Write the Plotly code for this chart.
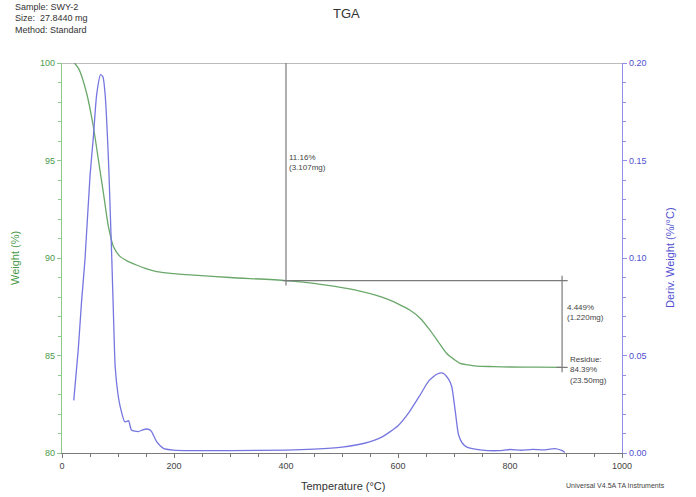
import plotly.graph_objects as go

# Weight (%) vs temperature (°C)
temp_w = [22, 30, 44, 56, 65, 74, 83, 92, 104, 118, 133, 150, 169, 200, 229, 300,
          400, 450, 490, 530, 560, 580, 600, 621, 640, 657, 672, 687, 700, 711,
          725, 740, 770, 800, 850, 893]
weight = [100.0, 99.7, 98.45, 96.73, 95.03, 93.33, 91.6, 90.58, 90.07, 89.83, 89.64,
          89.45, 89.3, 89.2, 89.13, 89.0, 88.84, 88.7, 88.53, 88.32, 88.1, 87.9, 87.65,
          87.33, 86.9, 86.3, 85.7, 85.1, 84.8, 84.6, 84.52, 84.46, 84.43, 84.41,
          84.40, 84.39]

# Derivative weight (%/°C) vs temperature (°C)
temp_d = [21, 29, 35, 41, 50, 56, 62, 69, 73, 77, 83, 86, 89, 92, 95, 100, 104, 112,
          116, 119, 124, 136, 144, 151, 156, 160, 169, 181, 199, 229, 300, 400, 450,
          500, 540, 570, 600, 620, 640, 655, 670, 680, 690, 696, 702, 708, 715, 723,
          750, 780, 800, 820, 840, 860, 880, 893, 898]
deriv = [0.027, 0.053, 0.078, 0.099, 0.142, 0.162, 0.184, 0.194, 0.193, 0.184, 0.150,
         0.125, 0.099, 0.070, 0.044, 0.030, 0.0237, 0.016, 0.0162, 0.0166, 0.0118,
         0.011, 0.0118, 0.0123, 0.0120, 0.011, 0.0058, 0.0024, 0.0015, 0.0012, 0.0012,
         0.0015, 0.002, 0.003, 0.005, 0.008, 0.014, 0.021, 0.030, 0.037, 0.0405,
         0.041, 0.038, 0.034, 0.022, 0.0095, 0.005, 0.003, 0.0015, 0.0012, 0.0018,
         0.0014, 0.0019, 0.0016, 0.0022, 0.0012, 0.0003]

# Step analysis
step_start_t, step_mid_t, step_end_t = 400, 400, 893
w_start, w_mid, w_res = 100.0, 88.84, 84.39
loss1_txt = "11.16%<br>(3.107mg)"
loss2_txt = "4.449%<br>(1.220mg)"
residue_txt = "Residue:<br>84.39%<br>(23.50mg)"
header_lines = ["Sample: SWY-2", "Size:  27.8440 mg", "Method: Standard"]

GREEN_LINE = "#6aa86a"
GREEN_AXIS = "#8cc88c"
GREEN_TXT = "#4a9a4a"
BLUE_LINE = "#7676e0"
BLUE_AXIS = "#9090e8"
BLUE_TXT = "#5050d0"
GRAY = "#7a7a7a"
FONT = "Liberation Sans"

fig = go.Figure()
fig.add_trace(go.Scatter(x=temp_w, y=weight, mode="lines",
                         line=dict(color=GREEN_LINE, width=1.3, shape="spline", smoothing=0.8),
                         showlegend=False, yaxis="y"))
fig.add_trace(go.Scatter(x=temp_d, y=deriv, mode="lines",
                         line=dict(color=BLUE_LINE, width=1.3, shape="spline", smoothing=0.6),
                         showlegend=False, yaxis="y2"))

shapes = []
def seg(x0, y0, x1, y1):
    shapes.append(dict(type="line", xref="x", yref="y", x0=x0, y0=y0, x1=x1, y1=y1,
                       line=dict(color=GRAY, width=1.2)))

# top reference at 100 %
seg(0, w_start, 1000, w_start)
# first step: vertical at 400 °C
seg(step_start_t, w_start + 0.25, step_start_t, w_mid - 0.25)
seg(step_start_t - 6, w_mid, step_start_t + 6, w_mid)
# horizontal to the end point
seg(step_mid_t, w_mid, step_end_t + 10, w_mid)
# second step: vertical at the end temperature
seg(step_end_t, w_mid + 0.25, step_end_t, w_res - 0.25)
seg(step_end_t - 10, w_res, step_end_t + 10, w_res)

annotations = []
for i, line in enumerate(header_lines):
    annotations.append(dict(text=line, xref="paper", yref="paper",
                            x=(13 - 62) / 560, y=(453 - (7 + 11.5 * i)) / 390,
                            xanchor="left", yanchor="middle", showarrow=False,
                            font=dict(family=FONT, size=9, color="#333333")))
annotations += [
    dict(text="TGA", xref="paper", yref="paper", x=(346 - 62) / 560, y=(453 - 13) / 390,
         xanchor="center", yanchor="middle", showarrow=False,
         font=dict(family=FONT, size=13, color="#333333")),
    dict(text="Weight (%)", xref="paper", yref="paper", x=(15 - 62) / 560, y=0.5,
         xanchor="center", yanchor="middle", textangle=-90, showarrow=False,
         font=dict(family=FONT, size=11, color=GREEN_TXT)),
    dict(text="Deriv. Weight (%/°C)", xref="paper", yref="paper", x=(670 - 62) / 560, y=0.5,
         xanchor="center", yanchor="middle", textangle=-90, showarrow=False,
         font=dict(family=FONT, size=11, color=BLUE_TXT)),
    dict(text="Temperature (°C)", xref="paper", yref="paper", x=(343 - 62) / 560,
         y=(453 - 486) / 390, xanchor="center", yanchor="middle", showarrow=False,
         font=dict(family=FONT, size=11, color="#333333")),
    dict(text="Universal V4.5A TA Instruments", xref="paper", yref="paper",
         x=(615 - 62) / 560, y=(453 - 485) / 390, xanchor="center", yanchor="middle",
         showarrow=False, font=dict(family=FONT, size=7, color="#444444")),
    dict(text=loss1_txt, xref="x", yref="y", x=(287 - 62) / 0.56, y=94.92,
         xanchor="left", yanchor="middle", align="left", showarrow=False,
         font=dict(family=FONT, size=8, color="#444444")),
    dict(text=loss2_txt, xref="x", yref="y", x=(565 - 62) / 0.56, y=87.23,
         xanchor="left", yanchor="middle", align="left", showarrow=False,
         font=dict(family=FONT, size=8, color="#444444")),
    dict(text=residue_txt, xref="x", yref="y", x=(568 - 62) / 0.56, y=84.26,
         xanchor="left", yanchor="middle", align="left", showarrow=False,
         font=dict(family=FONT, size=8, color="#444444")),
]

fig.update_layout(
    width=696, height=497,
    margin=dict(l=62, r=74, t=63, b=44, autoexpand=False),
    paper_bgcolor="white", plot_bgcolor="white",
    font=dict(family=FONT, size=9),
    shapes=shapes, annotations=annotations,
    xaxis=dict(range=[0, 1000], tickvals=[0, 200, 400, 600, 800, 1000],
               showgrid=False, zeroline=False, showline=True, linecolor=GRAY, linewidth=1.2,
               ticks="outside", ticklen=4, tickcolor=GRAY,
               minor=dict(dtick=50, ticks="outside", ticklen=3, tickcolor=GRAY),
               tickfont=dict(size=9, color="#444444")),
    yaxis=dict(range=[80, 100], tickvals=[80, 85, 90, 95, 100],
               showgrid=False, zeroline=False, showline=True, linecolor=GREEN_AXIS,
               linewidth=1.2, ticks="outside", ticklen=4, tickcolor=GREEN_AXIS,
               minor=dict(dtick=1, ticks="outside", ticklen=3, tickcolor=GREEN_AXIS),
               tickfont=dict(size=9, color=GREEN_TXT)),
    yaxis2=dict(range=[0, 0.2], tickvals=[0, 0.05, 0.10, 0.15, 0.20], tickformat=".2f",
                overlaying="y", side="right", anchor="x",
                showgrid=False, zeroline=False, showline=True, linecolor=BLUE_AXIS,
                linewidth=1.2, ticks="outside", ticklen=4, tickcolor=BLUE_AXIS,
                minor=dict(dtick=0.01, ticks="outside", ticklen=3, tickcolor=BLUE_AXIS),
                tickfont=dict(size=9, color=BLUE_TXT)),
)

fig.write_html("out.html")
